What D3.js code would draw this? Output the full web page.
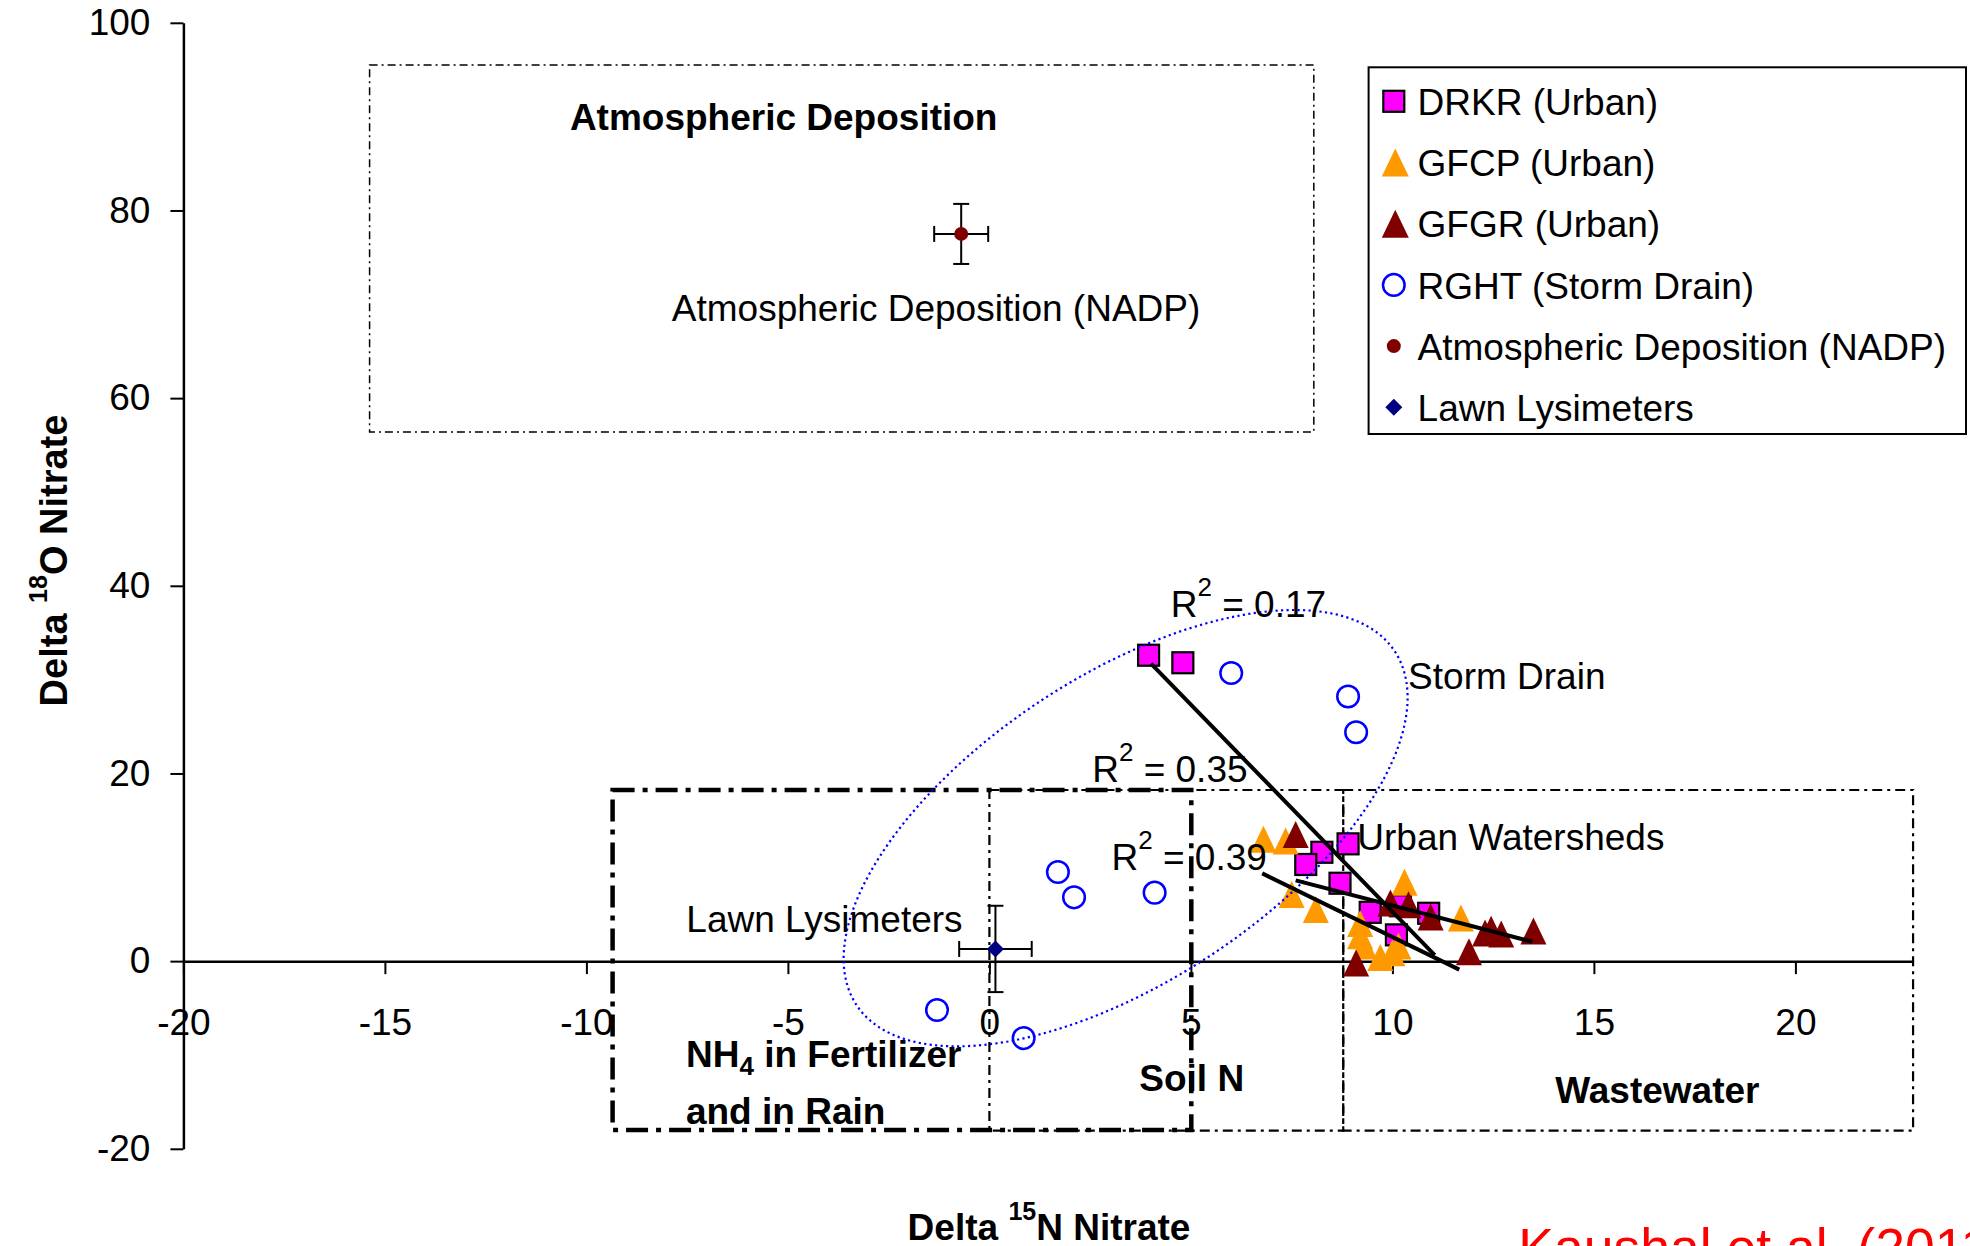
<!DOCTYPE html>
<meta charset="utf-8">
<script src="https://d3js.org/d3.v7.min.js"></script>
<style>
    body { margin: 0; overflow: hidden; background: #fff; }
    text { font-family: "Liberation Sans", Arial, sans-serif; }
</style>
<div id="vis"></div>
<script>
    // data (delta 15N, delta 18O)
    var drkr = [[3.95, 32.6], [4.8, 31.8], [8.9, 12.5], [8.25, 11.6], [7.85, 10.3], [8.7, 8.3],
                [9.45, 5.2], [10.2, 5.9], [10.9, 5.1], [10.1, 2.8]];
    var gfcp = [[6.8, 13.0], [7.35, 12.8], [7.5, 7.1], [8.1, 5.5], [9.2, 4.0], [9.2, 2.7], [9.3, 1.6],
                [9.7, 0.4], [10.0, 0.9], [10.15, 1.6], [10.3, 8.4], [11.7, 4.6]];
    var gfgr = [[7.6, 13.5], [9.1, -0.2], [9.95, 6.2], [10.4, 6.0], [10.95, 4.7], [11.9, 1.0],
                [12.3, 3.0], [12.45, 3.4], [12.7, 2.9], [13.5, 3.2]];
    var rght = [[6.0, 30.7], [8.9, 28.2], [9.1, 24.4], [1.7, 9.5], [2.1, 6.8], [4.1, 7.3],
                [-1.3, -5.2], [0.85, -8.2]];
    var nadp = [-0.7, 77.5], nadpErr = [0.67, 3.2];
    var lawn = [0.15, 1.3], lawnErr = [0.9, 4.6];

    // regression lines and their R2
    var fitLines = [[[4.01, 31.7], [11.05, 0.64]], [[7.6, 8.6], [13.47, 2.06]], [[6.77, 9.35], [11.66, -0.9]]];
    var r2Vals = ["0.17", "0.35", "0.39"];

    var xTicks = [-20, -15, -10, -5, 0, 5, 10, 15, 20];
    var yTicks = [-20, 0, 20, 40, 60, 80, 100];
    var legendNames = ["DRKR (Urban)", "GFCP (Urban)", "GFGR (Urban)", "RGHT (Storm Drain)",
                       "Atmospheric Deposition (NADP)", "Lawn Lysimeters"];

    // source regions (x0, x1, y0, y1)
    var boxes = [
        { r: [-15.38, 8.05, 56.4, 95.5], w: 1.5, dash: "8,4,2,4" },
        { r: [0, 8.78, -18.07, 18.24], w: 2.2, dash: "10,5,3,5" },
        { r: [8.78, 22.92, -18.07, 18.24], w: 2.2, dash: "10,5,3,5" },
        { r: [-9.35, 5.01, -18.0, 18.24], w: 4.5, dash: "22,8,5,8" }
    ];

    // storm drain ellipse: centre + two conjugate half axes (data units)
    var ellC = [3.38, 14.17], ellU = [6.68, 18.84], ellV = [2.085, -13.63];

    var W = 1970, H = 1246;
    var mgn = { lft: 183.4, top: 22.8 };
    var svg = d3.select("#vis").append("svg")
        .attr("width", W).attr("height", H);

    var x = d3.scaleLinear().domain([-20, 22.92]).range([mgn.lft, mgn.lft + 42.92 * 40.3]);
    var y = d3.scaleLinear().domain([-20, 100]).range([1148.8, mgn.top]);

    // dash-dot boxes
    boxes.forEach(function (b) {
        svg.append("rect")
            .attr("x", x(b.r[0])).attr("y", y(b.r[3]))
            .attr("width", x(b.r[1]) - x(b.r[0]))
            .attr("height", y(b.r[2]) - y(b.r[3]))
            .attr("fill", "none").attr("stroke", "#000")
            .attr("stroke-width", b.w).attr("stroke-dasharray", b.dash);
    });

    // axes
    var fmt = function (d) { return String(d); };
    var gy = svg.append("g")
        .attr("transform", "translate(" + x(-20) + ",0)")
        .call(d3.axisLeft(y).tickValues(yTicks).tickSize(13).tickPadding(20).tickSizeOuter(0).tickFormat(fmt));
    var gx = svg.append("g")
        .attr("transform", "translate(0," + y(0) + ")")
        .call(d3.axisBottom(x).tickValues(xTicks).tickSize(13).tickPadding(35).tickSizeOuter(0).tickFormat(fmt));
    [gx, gy].forEach(function (g) {
        g.attr("font-family", null).attr("font-size", null);
        g.select(".domain").attr("stroke-width", 2.5);
        g.selectAll(".tick line").attr("stroke-width", 2);
        g.selectAll(".tick text").style("font-size", "37px").attr("fill", "#000");
    });

    // markers
    function tri(px, py, w, h) {
        return "M" + px + "," + (py - h / 2) + "L" + (px + w / 2) + "," + (py + h / 2) + "L" + (px - w / 2) + "," + (py + h / 2) + "Z";
    }
    function diamond(px, py, r) {
        return "M" + px + "," + (py - r) + "L" + (px + r) + "," + py + "L" + px + "," + (py + r) + "L" + (px - r) + "," + py + "Z";
    }

    svg.append("g").selectAll("rect").data(drkr).enter().append("rect")
        .attr("x", function (d) { return x(d[0]) - 10.5; })
        .attr("y", function (d) { return y(d[1]) - 10.5; })
        .attr("width", 21).attr("height", 21)
        .attr("fill", "#FF00FF").attr("stroke", "#000").attr("stroke-width", 2.2);

    svg.append("g").selectAll("path").data(gfcp).enter().append("path")
        .attr("d", function (d) { return tri(x(d[0]), y(d[1]), 26, 27); })
        .attr("fill", "#FF9900");

    svg.append("g").selectAll("path").data(gfgr).enter().append("path")
        .attr("d", function (d) { return tri(x(d[0]), y(d[1]), 26, 27); })
        .attr("fill", "#800000");

    svg.append("g").selectAll("circle").data(rght).enter().append("circle")
        .attr("cx", function (d) { return x(d[0]); })
        .attr("cy", function (d) { return y(d[1]); })
        .attr("r", 10.8)
        .attr("fill", "none").attr("stroke", "#0000FF").attr("stroke-width", 2.5);

    // ellipse around storm drain samples
    var tt = d3.range(0, 361, 2);
    var ellPts = tt.map(function (a) {
        var t = a * Math.PI / 180;
        return [ellC[0] + ellU[0] * Math.cos(t) + ellV[0] * Math.sin(t),
                ellC[1] + ellU[1] * Math.cos(t) + ellV[1] * Math.sin(t)];
    });
    svg.append("path")
        .attr("d", d3.line().x(function (d) { return x(d[0]); }).y(function (d) { return y(d[1]); })(ellPts))
        .attr("fill", "none").attr("stroke", "#0000FF").attr("stroke-width", 2.2)
        .attr("stroke-dasharray", "2.2,3.3");

    // error bars
    function errBar(p, e) {
        var g = svg.append("g").attr("stroke", "#000").attr("stroke-width", 2);
        var cx = x(p[0]), cy = y(p[1]);
        var xl = x(p[0] - e[0]), xr = x(p[0] + e[0]), yt = y(p[1] + e[1]), yb = y(p[1] - e[1]);
        g.append("line").attr("x1", xl).attr("x2", xr).attr("y1", cy).attr("y2", cy);
        g.append("line").attr("x1", xl).attr("x2", xl).attr("y1", cy - 8).attr("y2", cy + 8);
        g.append("line").attr("x1", xr).attr("x2", xr).attr("y1", cy - 8).attr("y2", cy + 8);
        g.append("line").attr("x1", cx).attr("x2", cx).attr("y1", yt).attr("y2", yb);
        g.append("line").attr("x1", cx - 8).attr("x2", cx + 8).attr("y1", yt).attr("y2", yt);
        g.append("line").attr("x1", cx - 8).attr("x2", cx + 8).attr("y1", yb).attr("y2", yb);
    }
    errBar(nadp, nadpErr);
    errBar(lawn, lawnErr);
    svg.append("circle").attr("cx", x(nadp[0])).attr("cy", y(nadp[1])).attr("r", 7).attr("fill", "#800000");
    svg.append("path").attr("d", diamond(x(lawn[0]), y(lawn[1]), 8.5)).attr("fill", "#000080");

    // regression lines
    svg.append("g").selectAll("line").data(fitLines).enter().append("line")
        .attr("x1", function (d) { return x(d[0][0]); })
        .attr("y1", function (d) { return y(d[0][1]); })
        .attr("x2", function (d) { return x(d[1][0]); })
        .attr("y2", function (d) { return y(d[1][1]); })
        .attr("stroke", "#000").attr("stroke-width", 4);

    // labels
    function label(tx, ty, parts, opts) {
        opts = opts || {};
        var t = svg.append("text")
            .attr("x", x(tx)).attr("y", y(ty))
            .style("font-size", "37px")
            .style("font-weight", opts.bold ? "bold" : "normal")
            .attr("text-anchor", opts.anchor || "start");
        parts.forEach(function (p) {
            if (typeof p === "string") { t.append("tspan").text(p); return; }
            t.append("tspan").attr("dy", p.dy).style("font-size", "26px").text(p.s);
            t.append("tspan").attr("dy", -p.dy).text(p.after);
        });
        return t;
    }
    label(-10.41, 88.57, ["Atmospheric Deposition"], { bold: true });
    label(-7.88, 68.25, ["Atmospheric Deposition (NADP)"]);
    label(10.39, 28.97, ["Storm Drain"]);
    label(9.13, 11.8, ["Urban Watersheds"]);
    label(-7.52, 3.13, ["Lawn Lysimeters"]);
    var r2Pos = [[4.5, 36.64], [2.55, 19.09], [3.03, 9.71]];
    r2Vals.forEach(function (v, i) {
        label(r2Pos[i][0], r2Pos[i][1], ["R", { s: "2", dy: -21, after: " = " + v }]);
    });
    label(-7.53, -11.29, ["NH", { s: "4", dy: 8, after: " in Fertilizer" }], { bold: true });
    label(-7.53, -17.36, ["and in Rain"], { bold: true });
    label(5.02, -13.79, ["Soil N"], { bold: true, anchor: "middle" });
    label(14.04, -15.12, ["Wastewater"], { bold: true });

    // axis titles
    var xt = svg.append("text")
        .attr("x", 1049).attr("y", 1240)
        .attr("text-anchor", "middle")
        .style("font-size", "37px").style("font-weight", "bold");
    xt.append("tspan").text("Delta ");
    xt.append("tspan").attr("dy", -20).style("font-size", "25px").text("15");
    xt.append("tspan").attr("dy", 20).text("N Nitrate");

    var yt = svg.append("text")
        .attr("transform", "translate(66.7,560.5) rotate(-90)")
        .attr("text-anchor", "middle")
        .style("font-size", "38px").style("font-weight", "bold");
    yt.append("tspan").text("Delta ");
    yt.append("tspan").attr("dy", -20).style("font-size", "25px").text("18");
    yt.append("tspan").attr("dy", 20).text("O Nitrate");

    // citation
    svg.append("text")
        .attr("x", 1518.3).attr("y", 1266)
        .style("font-size", "53.5px").attr("fill", "#FF0000")
        .text("Kaushal et al. (2011)");

    // legend
    var lg = svg.append("g");
    lg.append("rect")
        .attr("x", 1368.6).attr("y", 67.3).attr("width", 597.4).attr("height", 366.7)
        .attr("fill", "#fff").attr("stroke", "#000").attr("stroke-width", 2);
    legendNames.forEach(function (name, i) {
        var by = 115 + i * 61.2, mx = 1393.8, my = by - 13.7;
        if (i === 0) {
            lg.append("rect").attr("x", mx - 10.5).attr("y", my - 10.5).attr("width", 21).attr("height", 21)
                .attr("fill", "#FF00FF").attr("stroke", "#000").attr("stroke-width", 2.2);
        } else if (i === 1 || i === 2) {
            lg.append("path").attr("d", tri(mx + 1.5, my, 27, 28)).attr("fill", i === 1 ? "#FF9900" : "#800000");
        } else if (i === 3) {
            lg.append("circle").attr("cx", mx).attr("cy", my).attr("r", 10.8)
                .attr("fill", "none").attr("stroke", "#0000FF").attr("stroke-width", 2.5);
        } else if (i === 4) {
            lg.append("circle").attr("cx", mx).attr("cy", my).attr("r", 7).attr("fill", "#800000");
        } else {
            lg.append("path").attr("d", diamond(mx, my, 8.5)).attr("fill", "#000080");
        }
        lg.append("text").attr("x", 1417.6).attr("y", by)
            .style("font-size", "37px").text(name);
    });
</script>
